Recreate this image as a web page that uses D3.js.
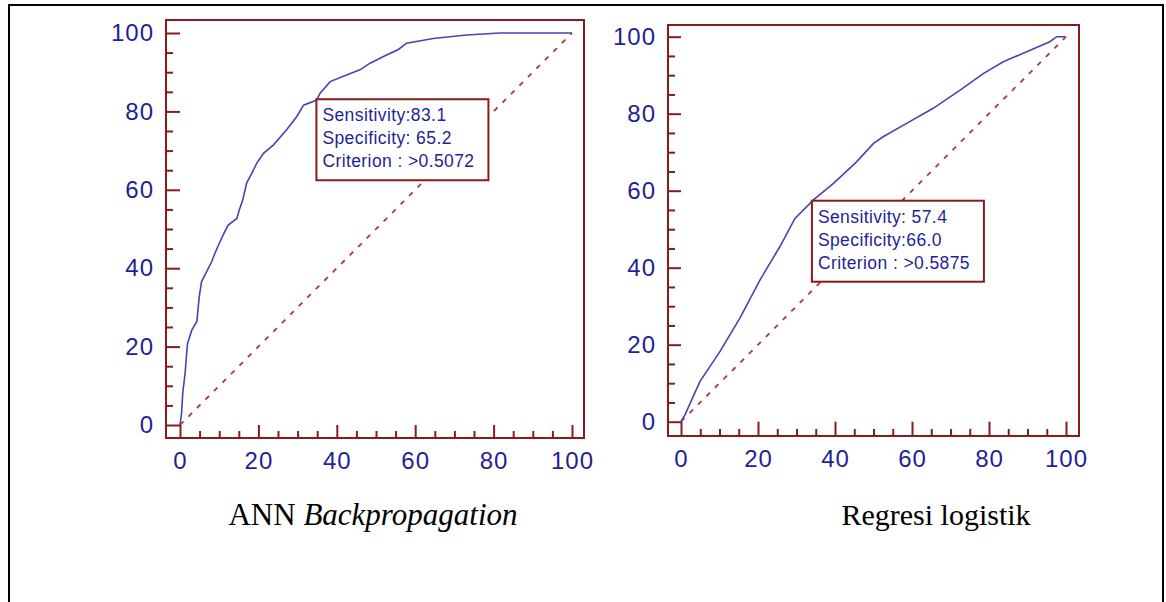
<!DOCTYPE html>
<html>
<head>
<meta charset="utf-8">
<script src="https://cdn.jsdelivr.net/npm/d3@7"></script>
<style>
  body { margin: 0; background: #fff; }
  svg { display: block; }
  .tick text { font-family: "Liberation Sans", Arial, sans-serif; font-size: 24px; letter-spacing: 1px; fill: #1f1f96; }
</style>
</head>
<body>
<div id="chart"></div>
<script>
// ROC curve points (100 - specificity, sensitivity)
const annFpr = [0, 0.4, 0.7, 1.3, 1.9, 3, 4.3, 4.9, 5.5, 6.8, 8.1, 8.9, 10, 11.2, 12.3, 14.5, 15.1, 16, 17, 18.3, 19.6, 21.3, 23.8, 27.2, 29.8, 31.5, 34.9, 35.7, 38.3, 42.5, 45.9, 48.5, 51.9, 55.7, 57.8, 64.6, 73.1, 81.6, 100];
const annTpr = [0, 3, 8.2, 13.2, 20.7, 24.2, 26.4, 32.7, 36.6, 39.1, 41.7, 43.8, 46.3, 48.9, 51, 52.7, 54.8, 57.4, 61.7, 64.2, 66.8, 69.3, 71.4, 75.3, 78.7, 81.6, 82.9, 84.6, 87.6, 89.3, 90.6, 92.3, 94, 95.8, 97.4, 98.6, 99.5, 100, 100];
const logFpr = [0, 1, 4.9, 10.1, 15.3, 20.5, 25.7, 29.6, 34.4, 39.6, 45.6, 50, 52.5, 58.6, 65.5, 72.5, 78.5, 83.7, 89.8, 95.8, 97.6, 99.7];
const logTpr = [0, 1.7, 10.4, 18.2, 26.9, 36.8, 45.5, 52.8, 57.6, 61.9, 67.5, 72.3, 74, 77.5, 81.4, 86.1, 90.4, 93.5, 96.1, 98.7, 100, 100];

const annNote = ["Sensitivity:83.1", "Specificity: 65.2", "Criterion : >0.5072"];
const logNote = ["Sensitivity: 57.4", "Specificity:66.0", "Criterion : >0.5875"];
const annCut = [34.8, 83.1];   // 100 - 65.2, 83.1
const logCut = [34.0, 57.4];   // 100 - 66.0, 57.4

const majorTicks = [0, 20, 40, 60, 80, 100];
const minorTicks = d3.range(0, 101, 5).filter(d => d % 20 !== 0);
const titles = ["ANN", "Backpropagation", "Regresi logistik"];

const width = 1166, height = 602;
const frameColor = "#8b1a1a", lineColor = "#4545b0", textColor = "#1f1f96";

const svg = d3.select("#chart").append("svg")
  .attr("width", width).attr("height", height);

// page border
svg.append("path")
  .attr("d", "M9,602 V5 H1163 V602")
  .attr("fill", "none").attr("stroke", "#000").attr("stroke-width", 2);

const panels = [
  {xr: [180, 572], yr: [425, 33], frame: [166, 20, 584, 438], fpr: annFpr, tpr: annTpr, note: annNote, cut: annCut},
  {xr: [681, 1066], yr: [421.7, 36.7], frame: [668, 25, 1079, 436], fpr: logFpr, tpr: logTpr, note: logNote, cut: logCut}
];

panels.forEach(p => {
  const x = d3.scaleLinear().domain([0, 100]).range(p.xr);
  const y = d3.scaleLinear().domain([0, 100]).range(p.yr);
  const [fx0, fy0, fx1, fy1] = p.frame;
  const g = svg.append("g");

  // y axis on left frame, ticks pointing inward
  const yMajor = x(0) - fx0;
  g.append("g")
    .attr("transform", `translate(${fx0},0)`)
    .call(d3.axisLeft(y).tickValues(majorTicks).tickSizeInner(-yMajor).tickSizeOuter(0).tickPadding(12))
    .call(a => a.select(".domain").remove())
    .call(a => a.selectAll("line").attr("stroke", frameColor).attr("stroke-width", 2));
  g.append("g")
    .attr("transform", `translate(${fx0},0)`)
    .call(d3.axisLeft(y).tickValues(minorTicks).tickSizeInner(-7).tickSizeOuter(0).tickFormat(""))
    .call(a => a.select(".domain").remove())
    .call(a => a.selectAll("line").attr("stroke", frameColor).attr("stroke-width", 2));

  // x axis on bottom frame
  const xMajor = fy1 - y(0);
  g.append("g")
    .attr("transform", `translate(0,${fy1})`)
    .call(d3.axisBottom(x).tickValues(majorTicks).tickSizeInner(-xMajor).tickSizeOuter(0).tickPadding(14))
    .call(a => a.select(".domain").remove())
    .call(a => a.selectAll("line").attr("stroke", frameColor).attr("stroke-width", 2));
  g.append("g")
    .attr("transform", `translate(0,${fy1})`)
    .call(d3.axisBottom(x).tickValues(minorTicks).tickSizeInner(-7).tickSizeOuter(0).tickFormat(""))
    .call(a => a.select(".domain").remove())
    .call(a => a.selectAll("line").attr("stroke", frameColor).attr("stroke-width", 2));

  // frame
  g.append("rect")
    .attr("x", fx0).attr("y", fy0)
    .attr("width", fx1 - fx0).attr("height", fy1 - fy0)
    .attr("fill", "none").attr("stroke", frameColor).attr("stroke-width", 2);

  // diagonal reference
  g.append("line")
    .attr("x1", x(0)).attr("y1", y(0)).attr("x2", x(100)).attr("y2", y(100))
    .attr("stroke", "#a83a3a").attr("stroke-width", 1.8)
    .attr("stroke-dasharray", "5,7");

  // ROC curve
  const pts = p.fpr.map((d, i) => [d, p.tpr[i]]);
  g.append("path")
    .datum(pts)
    .attr("fill", "none").attr("stroke", lineColor).attr("stroke-width", 1.6)
    .attr("d", d3.line().x(d => x(d[0])).y(d => y(d[1])));

  // criterion box anchored at cut point
  const bx = x(p.cut[0]), by = y(p.cut[1]);
  const box = g.append("g").attr("transform", `translate(${bx},${by})`);
  box.append("rect")
    .attr("width", 172).attr("height", 81)
    .attr("fill", "#fff").attr("stroke", frameColor).attr("stroke-width", 2);
  box.selectAll("text").data(p.note).join("text")
    .attr("x", 6).attr("y", (d, i) => 22 + i * 23)
    .attr("font-family", "Liberation Sans, Arial, sans-serif")
    .attr("font-size", 17.5).attr("letter-spacing", 0.4)
    .attr("fill", textColor)
    .text(d => d);
});

// captions
const cap1 = svg.append("text")
  .attr("x", 373).attr("y", 525)
  .attr("text-anchor", "middle")
  .attr("font-family", "Liberation Serif, Times New Roman, serif")
  .attr("font-size", 31).attr("fill", "#000");
cap1.append("tspan").text(titles[0] + " ");
cap1.append("tspan").attr("font-style", "italic").text(titles[1]);

svg.append("text")
  .attr("x", 936).attr("y", 525)
  .attr("text-anchor", "middle")
  .attr("font-family", "Liberation Serif, Times New Roman, serif")
  .attr("font-size", 30).attr("fill", "#000")
  .text(titles[2]);
</script>
</body>
</html>
